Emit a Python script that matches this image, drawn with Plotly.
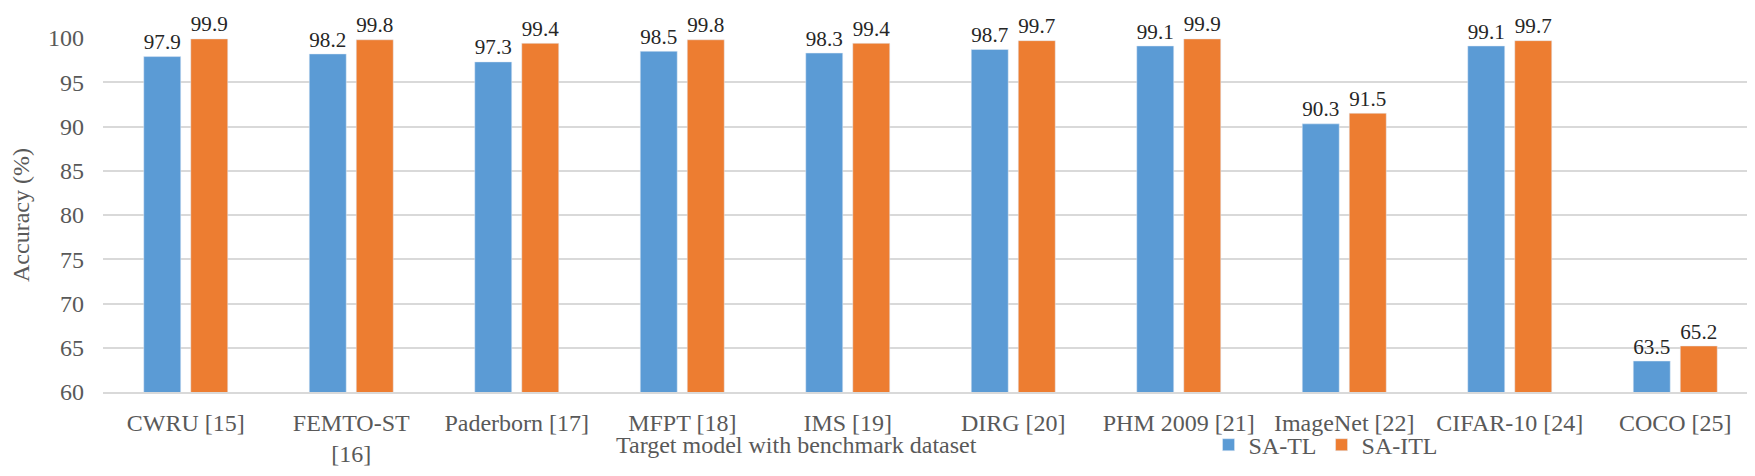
import plotly.graph_objects as go

categories = ["CWRU [15]", "FEMTO-ST<br>[16]", "Paderborn [17]", "MFPT [18]", "IMS [19]",
              "DIRG [20]", "PHM 2009 [21]", "ImageNet [22]", "CIFAR-10 [24]", "COCO [25]"]
sa_tl = [97.9, 98.2, 97.3, 98.5, 98.3, 98.7, 99.1, 90.3, 99.1, 63.5]
sa_itl = [99.9, 99.8, 99.4, 99.8, 99.4, 99.7, 99.9, 91.5, 99.7, 65.2]
y_ticks = [60, 65, 70, 75, 80, 85, 90, 95, 100]

FONT = "Liberation Serif"
FS = 24
fig = go.Figure()
fig.add_trace(go.Bar(name="SA-TL", x=categories, y=sa_tl, marker_color="#5B9BD5",
                     text=[f"{v:.1f}" for v in sa_tl], textposition="outside",
                     textfont=dict(family=FONT, size=FS, color="#262626"), cliponaxis=False))
fig.add_trace(go.Bar(name="SA-ITL", x=categories, y=sa_itl, marker_color="#ED7D31",
                     text=[f"{v:.1f}" for v in sa_itl], textposition="outside",
                     textfont=dict(family=FONT, size=FS, color="#262626"), cliponaxis=False))

fig.update_layout(
    width=1755, height=476,
    margin=dict(l=95, r=5, t=30, b=92, autoexpand=False),
    paper_bgcolor="white", plot_bgcolor="white",
    barmode="group", bargap=0.432, bargroupgap=0.213,
    font=dict(family=FONT, size=FS, color="#595959"),
    uniformtext=dict(mode=False),
    showlegend=True,
    legend=dict(orientation="h", x=0.668, y=-0.15, xanchor="left", yanchor="middle",
                font=dict(family=FONT, size=FS, color="#595959"), itemwidth=30,
                tracegroupgap=0, bgcolor="rgba(0,0,0,0)"),
    xaxis=dict(showgrid=False, showline=True, linecolor="#D9D9D9", linewidth=1.5,
               ticks="", ticklabelstandoff=8,
               tickfont=dict(family=FONT, size=FS, color="#595959")),
    yaxis=dict(range=[60, 100], tickvals=y_ticks, showgrid=True, gridcolor="#D9D9D9",
               gridwidth=1.5, zeroline=False, showline=False, ticks="",
               ticklabelstandoff=18,
               tickfont=dict(family=FONT, size=FS, color="#595959"),
               title=dict(text="Accuracy (%)", standoff=12,
                          font=dict(family=FONT, size=FS, color="#595959"))),
)
fig.add_annotation(text="Target model with benchmark dataset", xref="paper", yref="paper",
                   x=0.419, y=-0.15, xanchor="center", yanchor="middle", showarrow=False,
                   font=dict(family=FONT, size=FS, color="#595959"))
fig.write_html("out.html")
